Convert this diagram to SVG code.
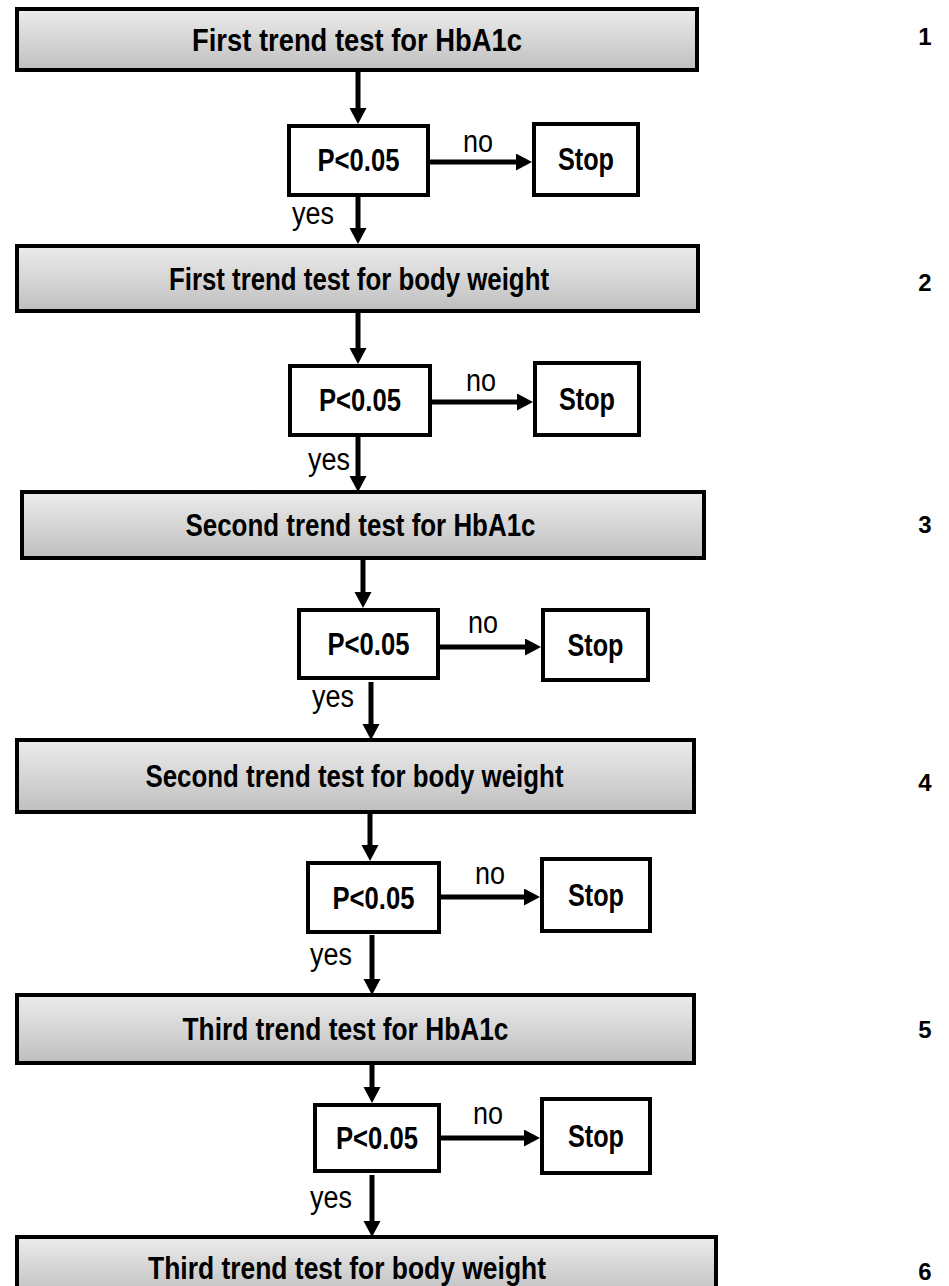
<svg xmlns="http://www.w3.org/2000/svg" width="949" height="1286" viewBox="0 0 949 1286">
<defs>
<linearGradient id="g" x1="0" y1="0" x2="0" y2="1">
<stop offset="0" stop-color="#ececec"/>
<stop offset="1" stop-color="#bfbfbf"/>
</linearGradient>
<marker id="ah" markerUnits="userSpaceOnUse" markerWidth="18" markerHeight="18" refX="6" refY="8.5" orient="auto">
<path d="M0,0 L16,8.5 L0,17 z" fill="#000"/>
</marker>
<style>
.t{fill:url(#g);stroke:#000;stroke-width:4}
.b{fill:#fff;stroke:#000;stroke-width:4}
.tt{font-family:"Liberation Sans",Arial,sans-serif;font-weight:bold;font-size:31px;text-anchor:middle;fill:#000}
.lb{font-family:"Liberation Sans",Arial,sans-serif;font-size:31px;text-anchor:middle;fill:#000}
.num{font-family:"Liberation Sans",Arial,sans-serif;font-weight:bold;font-size:24px;text-anchor:middle;fill:#000}
.c{stroke:#000;stroke-width:5;fill:none;marker-end:url(#ah)}
</style>
</defs>
<g id="connectors">
<line class="c" x1="358" y1="72" x2="358" y2="114"/>
<line class="c" x1="358" y1="197" x2="358" y2="234"/>
<line class="c" x1="358" y1="313" x2="358" y2="354"/>
<line class="c" x1="358" y1="437" x2="358" y2="482"/>
<line class="c" x1="363" y1="560" x2="363" y2="598"/>
<line class="c" x1="371" y1="682" x2="371" y2="730"/>
<line class="c" x1="370" y1="814" x2="370" y2="851"/>
<line class="c" x1="372" y1="935" x2="372" y2="985"/>
<line class="c" x1="372" y1="1065" x2="372" y2="1093"/>
<line class="c" x1="372" y1="1175" x2="372" y2="1227"/>
<line class="c" x1="430" y1="162" x2="522" y2="162"/>
<line class="c" x1="432" y1="402" x2="523" y2="402"/>
<line class="c" x1="440" y1="647" x2="531" y2="647"/>
<line class="c" x1="441" y1="897" x2="530" y2="897"/>
<line class="c" x1="441" y1="1138" x2="530" y2="1138"/>
<text class="lb" x="478" y="152" textLength="30" lengthAdjust="spacingAndGlyphs">no</text>
<text class="lb" x="481" y="391" textLength="30" lengthAdjust="spacingAndGlyphs">no</text>
<text class="lb" x="483" y="633" textLength="30" lengthAdjust="spacingAndGlyphs">no</text>
<text class="lb" x="490" y="884" textLength="30" lengthAdjust="spacingAndGlyphs">no</text>
<text class="lb" x="488" y="1124" textLength="30" lengthAdjust="spacingAndGlyphs">no</text>
<text class="lb" x="313" y="224" textLength="42" lengthAdjust="spacingAndGlyphs">yes</text>
<text class="lb" x="329" y="470" textLength="42" lengthAdjust="spacingAndGlyphs">yes</text>
<text class="lb" x="333" y="707" textLength="42" lengthAdjust="spacingAndGlyphs">yes</text>
<text class="lb" x="331" y="965" textLength="42" lengthAdjust="spacingAndGlyphs">yes</text>
<text class="lb" x="331" y="1208" textLength="42" lengthAdjust="spacingAndGlyphs">yes</text>
</g>
<g id="step1">
<rect class="t" x="17" y="9" width="680" height="61"/>
<text class="tt" x="357" y="51" textLength="330" lengthAdjust="spacingAndGlyphs">First trend test for HbA1c</text>
</g>
<g id="p1">
<rect class="b" x="289" y="126" width="139" height="69"/>
<text class="tt" x="358.5" y="171" textLength="82" lengthAdjust="spacingAndGlyphs">P&lt;0.05</text>
</g>
<g id="stop1">
<rect class="b" x="534" y="124" width="104" height="71"/>
<text class="tt" x="586" y="170" textLength="56" lengthAdjust="spacingAndGlyphs">Stop</text>
</g>
<g id="step2">
<rect class="t" x="17" y="246" width="681" height="65"/>
<text class="tt" x="359" y="290" textLength="380" lengthAdjust="spacingAndGlyphs">First trend test for body weight</text>
</g>
<g id="p2">
<rect class="b" x="290" y="366" width="140" height="69"/>
<text class="tt" x="360" y="411" textLength="82" lengthAdjust="spacingAndGlyphs">P&lt;0.05</text>
</g>
<g id="stop2">
<rect class="b" x="535" y="363" width="104" height="72"/>
<text class="tt" x="587" y="410" textLength="56" lengthAdjust="spacingAndGlyphs">Stop</text>
</g>
<g id="step3">
<rect class="t" x="22" y="492" width="682" height="66"/>
<text class="tt" x="360.5" y="536" textLength="350" lengthAdjust="spacingAndGlyphs">Second trend test for HbA1c</text>
</g>
<g id="p3">
<rect class="b" x="299" y="610" width="139" height="68"/>
<text class="tt" x="368.5" y="655" textLength="82" lengthAdjust="spacingAndGlyphs">P&lt;0.05</text>
</g>
<g id="stop3">
<rect class="b" x="543" y="610" width="105" height="70"/>
<text class="tt" x="595.5" y="656" textLength="56" lengthAdjust="spacingAndGlyphs">Stop</text>
</g>
<g id="step4">
<rect class="t" x="17" y="740" width="677" height="72"/>
<text class="tt" x="354.5" y="787" textLength="418" lengthAdjust="spacingAndGlyphs">Second trend test for body weight</text>
</g>
<g id="p4">
<rect class="b" x="308" y="863" width="131" height="69"/>
<text class="tt" x="373.5" y="909" textLength="82" lengthAdjust="spacingAndGlyphs">P&lt;0.05</text>
</g>
<g id="stop4">
<rect class="b" x="542" y="859" width="108" height="72"/>
<text class="tt" x="596" y="906" textLength="56" lengthAdjust="spacingAndGlyphs">Stop</text>
</g>
<g id="step5">
<rect class="t" x="17" y="995" width="677" height="68"/>
<text class="tt" x="345.5" y="1040" textLength="326" lengthAdjust="spacingAndGlyphs">Third trend test for HbA1c</text>
</g>
<g id="p5">
<rect class="b" x="315" y="1105" width="124" height="66"/>
<text class="tt" x="377" y="1149" textLength="82" lengthAdjust="spacingAndGlyphs">P&lt;0.05</text>
</g>
<g id="stop5">
<rect class="b" x="542" y="1099" width="108" height="74"/>
<text class="tt" x="596" y="1147" textLength="56" lengthAdjust="spacingAndGlyphs">Stop</text>
</g>
<g id="step6">
<rect class="t" x="17" y="1237" width="699" height="60"/>
<text class="tt" x="347" y="1279" textLength="398" lengthAdjust="spacingAndGlyphs">Third trend test for body weight</text>
</g>
<g id="numbers">
<text class="num" x="925" y="45">1</text>
<text class="num" x="925" y="291">2</text>
<text class="num" x="925" y="533">3</text>
<text class="num" x="925" y="791">4</text>
<text class="num" x="925" y="1038">5</text>
<text class="num" x="925" y="1280">6</text>
</g>
</svg>
